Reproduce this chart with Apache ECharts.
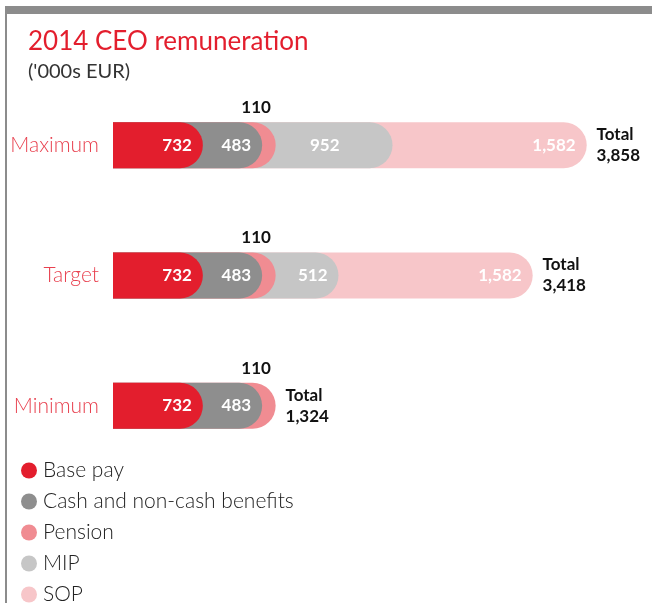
<!DOCTYPE html>
<html>
<head>
<meta charset="utf-8">
<script src="https://cdn.jsdelivr.net/npm/echarts@6/dist/echarts.min.js"></script>
<style>
  html, body { margin: 0; padding: 0; background: #fff; }
  #chart { width: 652px; height: 603px; }
</style>
</head>
<body>
<div id="chart"></div>
<script>
// scenarios, top to bottom
const scenarios = ['Maximum', 'Target', 'Minimum']
// '000s EUR per component ('-' = not part of that scenario)
const basePay = [732, 732, 732]
const cashBenefits = [483, 483, 483]
const pension = [110, 110, 110]
const mip = [952, 512, '-']
const sop = [1582, 1582, '-']
const totals = [3858, 3418, 1324]

const names = ['Base pay', 'Cash and non-cash benefits', 'Pension', 'MIP', 'SOP']
const colors = ['#e31e2d', '#8e8e8e', '#f08c92', '#c6c6c6', '#f7c6c9']

const font = 'Lato'
const fmt = (v) => Number(v).toLocaleString('en-US')

const parts = [basePay, cashBenefits, pension, mip, sop]

// each bar runs from 0 to the running sum, the shorter ones sit on top
function cumulative(k) {
  return scenarios.map((s, i) => {
    if (parts[k][i] === '-') return '-'
    let sum = 0
    for (let j = 0; j <= k; j++) sum += parts[j][i]
    return sum
  })
}

function createSeries() {
  const series = []
  // invisible bar that carries the total label
  series.push({
    name: 'total',
    type: 'bar',
    barWidth: 46,
    barGap: '-100%',
    itemStyle: { color: 'rgba(0,0,0,0)' },
    label: {
      show: true,
      position: 'right',
      distance: 10,
      formatter: (p) => 'Total\n' + fmt(p.value),
      color: '#111',
      fontFamily: font,
      fontWeight: 'bold',
      fontSize: 17,
      lineHeight: 21
    },
    data: totals
  })
  for (let k = parts.length - 1; k >= 0; k--) {
    const vals = cumulative(k)
    const label = {
      show: true,
      position: 'insideRight',
      distance: 11,
      color: '#fff',
      fontFamily: font,
      fontWeight: 'bold',
      fontSize: 17,
      formatter: (p) => fmt(parts[k][p.dataIndex])
    }
    if (k === 2) {
      // pension value sits above the bar
      label.position = ['88%', -6]
      label.align = 'center'
      label.verticalAlign = 'bottom'
      label.color = '#111'
    }
    const data = vals.map((v, i) => {
      if (k === 3 && i === 0) {
        return { value: v, label: { offset: [-42, 0] } }
      }
      return v
    })
    series.push({
      name: names[k],
      type: 'bar',
      barWidth: 46,
      barGap: '-100%',
      itemStyle: { color: colors[k], borderRadius: [0, 23, 23, 0] },
      label: label,
      data: data
    })
  }
  return series
}

const chart = echarts.init(document.getElementById('chart'))
chart.setOption({
  animation: false,
  backgroundColor: '#fff',
  title: {
    left: 28,
    top: 29,
    padding: 0,
    text: '2014 CEO remuneration',
    textStyle: { color: '#e31e2d', fontFamily: font, fontWeight: 'normal', fontSize: 26 },
    subtext: "('000s EUR)",
    subtextStyle: { color: '#333', fontFamily: font, fontSize: 20 },
    itemGap: 7
  },
  legend: {
    orient: 'vertical',
    left: 21,
    top: 460,
    height: 170,
    padding: 0,
    icon: 'circle',
    itemWidth: 16,
    itemHeight: 16,
    itemGap: 10,
    data: names,
    textStyle: { color: '#222', fontFamily: font, fontWeight: 300, fontSize: 21, padding: [0, 0, 0, 1] }
  },
  graphic: [
    { type: 'rect', shape: { x: 5, y: 6, width: 647, height: 8 }, style: { fill: '#8c8c8c' } },
    { type: 'rect', shape: { x: 5, y: 6, width: 2, height: 597 }, style: { fill: '#8c8c8c' } }
  ],
  grid: { left: 113, width: 491, top: 80, height: 391 },
  xAxis: {
    type: 'value',
    min: 0,
    max: 4000,
    show: false
  },
  yAxis: {
    type: 'category',
    inverse: true,
    data: scenarios,
    axisLine: { show: false },
    axisTick: { show: false },
    axisLabel: { margin: 14, color: '#e8414f', fontFamily: font, fontWeight: 300, fontSize: 21 }
  },
  series: createSeries()
})
</script>
</body>
</html>
